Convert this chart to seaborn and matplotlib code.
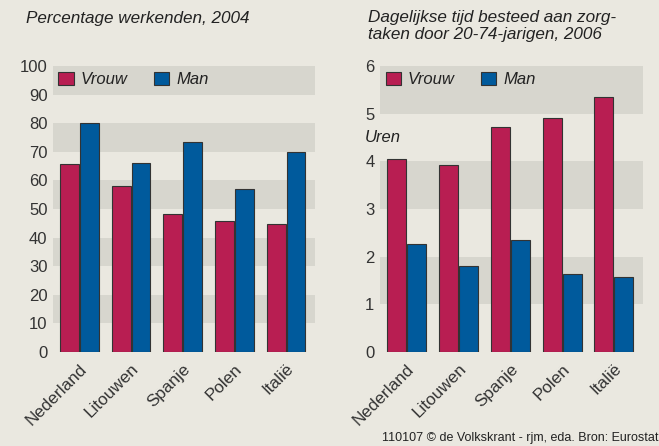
import matplotlib
matplotlib.use("Agg")
import matplotlib.pyplot as plt
import seaborn as sns
import pandas as pd

countries = ["Nederland", "Litouwen", "Spanje", "Polen", "Italië"]
genders = ["Vrouw", "Man"]
werkenden_vrouw = [65.6, 58.2, 48.1, 45.9, 44.6]
werkenden_man = [80.2, 66.0, 73.3, 57.1, 69.9]
zorg_vrouw = [4.04, 3.93, 4.73, 4.91, 5.34]
zorg_man = [2.27, 1.81, 2.34, 1.63, 1.58]

title_left = "Percentage werkenden, 2004"
title_right = "Dagelijkse tijd besteed aan zorg-\ntaken door 20-74-jarigen, 2006"
unit_right = "Uren"
footer = "110107 © de Volkskrant - rjm, eda. Bron: Eurostat"

sns.set_theme(style="white")
BG = "#EAE8E0"
BAND = "#D7D6CE"
TXT = "#333333"
palette = {"Vrouw": "#B81E52", "Man": "#005A9C"}
plt.rcParams["font.family"] = ["Liberation Sans", "DejaVu Sans"]

def long_df(v, m):
    return pd.DataFrame({
        "land": countries * 2,
        "geslacht": ["Vrouw"] * len(countries) + ["Man"] * len(countries),
        "waarde": list(v) + list(m),
    })

fig = plt.figure(figsize=(6.59, 4.46), dpi=100, facecolor=BG)
axL = fig.add_axes([53 / 659, 94 / 446, 262 / 659, 286 / 446])
axR = fig.add_axes([380 / 659, 94 / 446, 263 / 659, 286 / 446])

specs = [
    (axL, long_df(werkenden_vrouw, werkenden_man), 100, 10, [(10, 20), (30, 40), (50, 60), (70, 80), (90, 100)]),
    (axR, long_df(zorg_vrouw, zorg_man), 6, 1, [(1, 2), (3, 4), (5, 6)]),
]

for ax, df, top, step, bands in specs:
    ax.set_facecolor(BG)
    for lo, hi in bands:
        ax.axhspan(lo, hi, color=BAND, lw=0, zorder=0)
    sns.barplot(data=df, x="land", y="waarde", hue="geslacht", hue_order=genders,
                palette=palette, order=countries, width=0.77, gap=0.05,
                edgecolor="#333333", linewidth=0.8, saturation=1, ax=ax, zorder=2)
    ax.set_xlim(-0.51, 4.56)
    ax.set_ylim(0, top)
    ax.set_yticks([i * step for i in range(int(top / step) + 1)])
    ax.set_yticklabels([str(i * step) for i in range(int(top / step) + 1)])
    for s in ax.spines.values():
        s.set_visible(False)
    ax.set_xlabel("")
    ax.set_ylabel("")
    ax.tick_params(axis="both", length=0, colors=TXT, labelsize=12)
    ax.tick_params(axis="y", pad=4)
    ax.tick_params(axis="x", pad=6.5, labelsize=12.3)
    for lab in ax.get_xticklabels():
        lab.set_rotation(45)
        lab.set_ha("right")
        lab.set_va("top")
        lab.set_rotation_mode("anchor")
    leg = ax.legend(loc="upper left", bbox_to_anchor=(5.5 / 262, 1 - 5.5 / 286), ncol=2, frameon=False,
                    borderpad=0, borderaxespad=0,
                    handlelength=0.9, handleheight=0.9, handletextpad=0.42,
                    columnspacing=1.6, prop={"style": "italic", "size": 12})
    for t in leg.get_texts():
        t.set_color("#222222")

fig.text(26 / 659, 1 - 18 / 446, title_left, ha="left", va="center", style="italic", fontsize=12.3, color="#222222")
fig.text(368 / 659, 1 - 10 / 446, title_right, ha="left", va="top", style="italic", fontsize=12.3,
         color="#222222", linespacing=1.2)
fig.text(365 / 659, 1 - 137 / 446, unit_right, ha="left", va="center", style="italic", fontsize=12, color="#222222")
fig.text(658 / 659, 1 - 438 / 446, footer, ha="right", va="center", fontsize=9, color="#222222")

fig.savefig("out.png", dpi=100, facecolor=BG)
